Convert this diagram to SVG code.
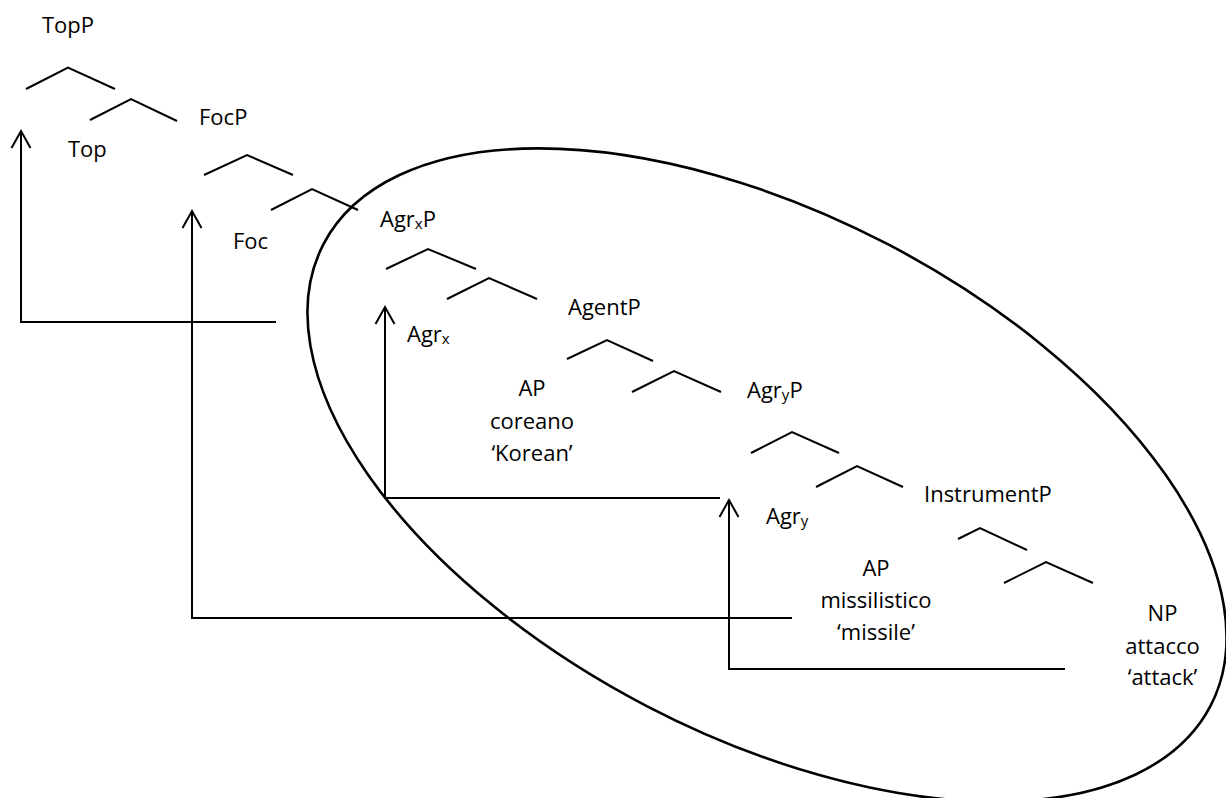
<svg xmlns="http://www.w3.org/2000/svg" width="1226" height="798" viewBox="0 0 1226 798">
<style>
text{font-family:"Open Sans","Liberation Sans",sans-serif;font-size:22px;fill:#000}
.c{text-anchor:middle}
.br{fill:none;stroke:#000;stroke-width:2}
.ln{fill:none;stroke:#000;stroke-width:2}
.sub{font-size:15px}
</style>
<rect width="1226" height="798" fill="#fff"/>
<g id="domain">
<ellipse cx="767" cy="475" rx="500" ry="260.5" transform="rotate(27.5 767 475)" fill="none" stroke="#000" stroke-width="2.6"/>
</g>
<g id="branches">
<polyline class="br" points="26,89 68,67.5 115,89"/>
<polyline class="br" points="90,120 131,99 177,121"/>
<polyline class="br" points="204,175 247,155 293,175"/>
<polyline class="br" points="271,210 312,189 358,210"/>
<polyline class="br" points="386,269 428,249 476,269"/>
<polyline class="br" points="447,299 489,278 537,299"/>
<polyline class="br" points="567,359 607,340 653,361"/>
<polyline class="br" points="632,392 674,371 721,392"/>
<polyline class="br" points="751,453 792,432 839,453"/>
<polyline class="br" points="816,487 857,466 903,487"/>
<polyline class="br" points="958,539 980,528 1027,550"/>
<polyline class="br" points="1004,583 1046,562 1093,583"/>
</g>
<g id="TopP"><text x="42" y="33">TopP</text></g>
<g id="FocP"><text x="199" y="125">FocP</text></g>
<g id="Top"><text x="68" y="157">Top</text></g>
<g id="Foc"><text x="233" y="249">Foc</text></g>
<g id="AgrxP"><text x="380" y="227">Agr<tspan class="sub" dy="2">x</tspan><tspan dy="-2">P</tspan></text></g>
<g id="Agrx"><text x="407" y="342">Agr<tspan class="sub" dy="2">x</tspan></text></g>
<g id="AgentP"><text x="568" y="315">AgentP</text></g>
<g id="AP-coreano">
<text class="c" x="532" y="396">AP</text>
<text class="c" x="532" y="429">coreano</text>
<text class="c" x="532" y="461">‘Korean’</text>
</g>
<g id="AgryP"><text x="747" y="398">Agr<tspan class="sub" dy="2">y</tspan><tspan dy="-2">P</tspan></text></g>
<g id="Agry"><text x="766" y="524">Agr<tspan class="sub" dy="2">y</tspan></text></g>
<g id="InstrumentP"><text x="924" y="502">InstrumentP</text></g>
<g id="AP-missilistico">
<text class="c" x="876" y="576">AP</text>
<text class="c" x="876" y="608">missilistico</text>
<text class="c" x="876" y="640">‘missile’</text>
</g>
<g id="NP-attacco">
<text class="c" x="1162.5" y="621">NP</text>
<text class="c" x="1162.5" y="654">attacco</text>
<text class="c" x="1162.5" y="685">‘attack’</text>
</g>
<g id="connectors">
<polyline class="ln" points="276,322 21,322 21,131"/>
<polyline class="ln" points="11.5,148 21,131 30.5,148"/>
<polyline class="ln" points="792,618 192,618 192,211"/>
<polyline class="ln" points="182.5,228 192,211 201.5,228"/>
<polyline class="ln" points="720,498 385,498 385,307"/>
<polyline class="ln" points="375.5,324 385,307 394.5,324"/>
<polyline class="ln" points="1065,669 729,669 729,500"/>
<polyline class="ln" points="719.5,517 729,500 738.5,517"/>
</g>
</svg>
